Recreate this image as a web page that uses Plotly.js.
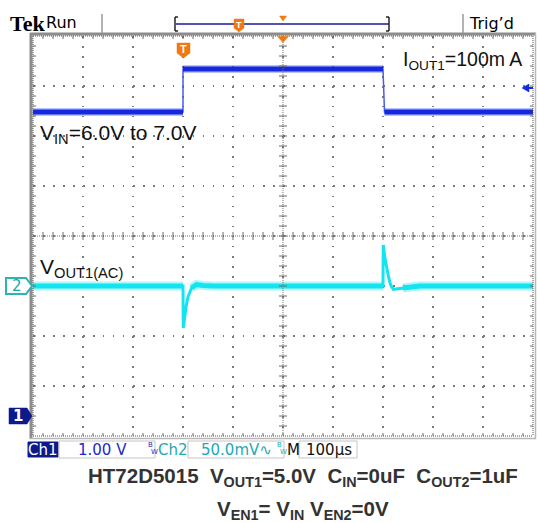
<!DOCTYPE html>
<html><head><meta charset="utf-8">
<script src="https://cdn.plot.ly/plotly-3.0.1.min.js"></script>
<style>html,body{margin:0;padding:0;background:#fff;}#chart{width:538px;height:523px;}</style>
</head><body><div id="chart"></div>
<script>
// ---- Data ----
// Ch1: input voltage step (V), time in µs relative to trigger
const ch1Time = [-500, -200, -200, 200, 203, 500];
const ch1Volt = [6.08, 6.08, 6.94, 6.94, 6.08, 6.08];
// Ch2: output AC ripple (mV)
const ch2Time = [-500, -200, -199.5, -196.7, -193.3, -190, -186, -183, -179, -173, -160, -140, 200, 200.5, 204, 207, 211, 214, 217, 221, 227, 240, 274, 500];
const ch2mV   = [0, 0, -42, -31, -19, -11, -6, -2, -1, 1.5, 0.5, 0, 0, 41, 27.7, 17.7, 9.3, 3.3, -0.7, -3.3, -3, -2, 0, 0];
// Labels
const ch1Scale = "1.00 V";
const ch2Scale = "50.0mV\u223F";
const timeScale = "100\u00B5s";
const captionLine1 = "HT72D5015  V<sub>OUT1</sub>=5.0V  C<sub>IN</sub>=0uF  C<sub>OUT2</sub>=1uF";
const captionLine2 = "V<sub>EN1</sub>= V<sub>IN</sub> V<sub>EN2</sub>=0V";
const labelIout = "I<sub>OUT1</sub>=100m A";
const labelVin = "V<sub>IN</sub>=6.0V to 7.0V";
const labelVout = "V<sub>OUT1(AC)</sub>";

// ---- geometry helpers (pixel -> paper) ----
const L = 33, R = 533, T = 36, B = 436;
const X = px => (px - L) / (R - L);
const Y = py => (B - py) / (B - T);
const pathOf = pts => pts.map((p, i) => (i ? 'L' : 'M') + X(p[0]).toFixed(5) + ',' + Y(p[1]).toFixed(5)).join(' ');

function bandify(t, v, keep) {
  const T2 = [], V2 = [];
  for (let i = 0; i < t.length; i++) {
    if (i > 0 && (t[i] - t[i - 1] < 4 || !keep(v[i]) || !keep(v[i - 1]))) { T2.push(null); V2.push(null); }
    if (keep(v[i])) { T2.push(t[i]); V2.push(v[i]); }
  }
  return [T2, V2];
}

const blue = '#1428e0', cyan = '#14e4f0';
const [b1t, b1v] = bandify(ch1Time, ch1Volt, () => true);
const [b2t, b2v] = bandify(ch2Time, ch2mV, v => Math.abs(v) <= 2);

const traces = [
  {x: b1t, y: b1v, mode: 'lines', line: {color: 'rgba(60,80,240,0.35)', width: 8}, hoverinfo: 'skip', connectgaps: false},
  {x: ch1Time, y: ch1Volt, mode: 'lines', line: {color: '#4a5cf0', width: 1.5}, hoverinfo: 'skip'},
  {x: b1t, y: b1v, mode: 'lines', line: {color: blue, width: 5}, hoverinfo: 'skip', connectgaps: false},
  {x: b2t, y: b2v, yaxis: 'y2', mode: 'lines', line: {color: 'rgba(20,228,240,0.35)', width: 9}, hoverinfo: 'skip', connectgaps: false},
  {x: ch2Time, y: ch2mV, yaxis: 'y2', mode: 'lines', line: {color: cyan, width: 3}, hoverinfo: 'skip'},
  {x: b2t, y: b2v, yaxis: 'y2', mode: 'lines', line: {color: cyan, width: 5}, hoverinfo: 'skip', connectgaps: false}
];

// ---- shapes ----
const shapes = [];
const line = (x0, y0, x1, y1, color, width, dash) => shapes.push({type: 'line', xref: 'paper', yref: 'paper', x0: X(x0), y0: Y(y0), x1: X(x1), y1: Y(y1), line: {color, width, dash: dash || 'solid'}});
const poly = (pts, fill, lc, lw) => shapes.push({type: 'path', xref: 'paper', yref: 'paper', path: pathOf(pts) + ' Z', fillcolor: fill, line: {color: lc || fill, width: lw || 0.5}});
const rect = (x0, y0, x1, y1, fill, lc) => shapes.push({type: 'rect', xref: 'paper', yref: 'paper', x0: X(x0), y0: Y(y0), x1: X(x1), y1: Y(y1), fillcolor: fill, line: {color: lc || fill, width: 1}});

// outer frame
line(31, 33, 31, 439, '#8c8c8c', 3);
line(30, 34, 536, 34, '#8c8c8c', 3);
line(535.5, 33, 535.5, 439, '#b8b8b8', 1.5);
line(30, 438.5, 536, 438.5, '#b8b8b8', 1.5);
// inner dotted border
line(L, T, R, T, '#555', 1, '1px,1px');
line(L, B, R, B, '#555', 1, '1px,1px');
line(L, T, L, B, '#555', 1, '1px,1px');
line(R, T, R, B, '#555', 1, '1px,1px');
// centre crosshair
line(283, T, 283, B, '#777', 1, '1px,1px');
line(L, 236, R, 236, '#777', 1, '1px,1px');
// ticks
let tk = '';
const seg = (a, b) => { tk += pathOf([a, b]) + ' '; };
for (let x = L + 10; x < R; x += 10) { seg([x, T], [x, T + 3]); seg([x, B], [x, B - 3]); seg([x, 232], [x, 240]); }
for (let y = T + 10; y < B; y += 10) { seg([L, y], [L + 3, y]); seg([R, y], [R - 3, y]); seg([279, y], [287, y]); }
shapes.push({type: 'path', xref: 'paper', yref: 'paper', path: tk, line: {color: '#6a6a6a', width: 1}});

// top status bar
line(102, 14, 102, 33, '#9a9a9a', 1.5);
line(463, 14, 463, 33, '#9a9a9a', 1.5);
line(176, 24, 389, 24, '#1a1a9c', 1.5);
line(175, 17, 175, 31, '#222', 1.5); line(175, 17, 178, 17, '#222', 1.5); line(175, 31, 178, 31, '#222', 1.5);
line(389, 17, 389, 31, '#222', 1.5); line(386, 17, 389, 17, '#222', 1.5); line(386, 31, 389, 31, '#222', 1.5);
const orange = '#f07a12';
poly([[234, 19], [244, 19], [244, 28], [239, 32], [234, 28]], orange);
poly([[279.5, 16], [286.5, 16], [283, 21]], orange);
// trigger markers in plot
poly([[277.5, 36.5], [288.5, 36.5], [283, 42.5]], orange);
poly([[177, 43], [190, 43], [190, 53], [183.5, 58], [177, 53]], orange);
// trigger level arrow (right)
poly([[522, 88], [529, 84], [529, 92]], blue);
line(528, 88, 533, 88, blue, 2);
// channel ground markers
poly([[6, 278], [26, 278], [32, 286], [26, 294], [6, 294]], '#ffffff', '#2ab4b4', 2);
poly([[9, 408], [27, 408], [32, 416], [27, 424], [9, 424]], '#0e1a8a');

// bottom readout boxes
rect(28, 442, 58, 457, '#0e1a8a');
rect(59, 441, 155, 458, '#ffffff', '#c4c4c4');
rect(188, 441, 284, 458, '#ffffff', '#c4c4c4');
rect(299, 441, 357, 458, '#ffffff', '#c4c4c4');

// ---- annotations ----
const ann = [];
const txt = (s, x, y, o) => ann.push(Object.assign({text: s, xref: 'paper', yref: 'paper', x: X(x), y: Y(y), xanchor: 'left', yanchor: 'middle', showarrow: false, font: {family: 'Liberation Sans, Arial, sans-serif', size: 16, color: '#111'}}, o || {}));

txt('Tek', 8, 23, {font: {family: 'Liberation Serif, Times New Roman, serif', size: 22, color: '#000', weight: 'bold'}});
txt('Run', 44, 22, {font: {family: 'DejaVu Sans, sans-serif', size: 16, color: '#000'}});
txt('Trig\u2019d', 467, 23, {font: {family: 'DejaVu Sans, sans-serif', size: 16, color: '#000'}});
txt('T', 239, 25, {xanchor: 'center', font: {family: 'Liberation Sans, Arial', size: 9, color: '#fff', weight: 'bold'}});
txt('T', 183.5, 49, {xanchor: 'center', font: {family: 'Liberation Sans, Arial', size: 11, color: '#fff', weight: 'bold'}});

txt(labelIout, 401, 60, {font: {family: 'Liberation Sans, Arial, sans-serif', size: 19.5, color: '#111'}});
txt(labelVin, 38, 134, {font: {family: 'Liberation Sans, Arial, sans-serif', size: 21, color: '#111'}});
txt(labelVout, 38, 268, {font: {family: 'Liberation Sans, Arial, sans-serif', size: 21, color: '#111'}});

txt('2', 17, 286, {xanchor: 'center', font: {family: 'DejaVu Sans, sans-serif', size: 15, color: '#1aa8ac'}});
txt('1', 18, 416, {xanchor: 'center', font: {family: 'DejaVu Sans, sans-serif', size: 15, color: '#fff', weight: 'bold'}});

const mono = 'DejaVu Sans, sans-serif';
txt('Ch1', 43, 449.5, {xanchor: 'center', font: {family: mono, size: 15, color: '#fff'}});
txt(ch1Scale, 76, 449.5, {font: {family: mono, size: 15, color: '#1e2ac8'}});
txt('B', 146, 445, {font: {family: mono, size: 7, color: '#1e2ac8'}});
txt('W', 149, 452, {font: {family: mono, size: 7, color: '#1e2ac8'}});
txt('Ch2', 156, 449.5, {font: {family: mono, size: 15, color: '#22aab4'}});
txt(ch2Scale, 199, 449.5, {font: {family: mono, size: 15, color: '#22aab4'}});
txt('B', 275, 445, {font: {family: mono, size: 7, color: '#22aab4'}});
txt('W', 278, 452, {font: {family: mono, size: 7, color: '#22aab4'}});
txt('M', 285, 449.5, {font: {family: mono, size: 15, color: '#111'}});
txt(timeScale, 304, 449.5, {font: {family: mono, size: 15, color: '#111'}});

txt(captionLine1, 303, 477, {xanchor: 'center', font: {family: 'Liberation Sans, Arial, sans-serif', size: 20.5, color: '#333', weight: 'bold'}});
txt(captionLine2, 303, 510, {xanchor: 'center', font: {family: 'Liberation Sans, Arial, sans-serif', size: 20.5, color: '#333', weight: 'bold'}});

const layout = {
  width: 538, height: 523,
  margin: {l: L, r: 538 - R, t: T, b: 523 - B, pad: 0},
  paper_bgcolor: '#fff', plot_bgcolor: '#fff',
  showlegend: false,
  xaxis: {range: [-500, 500], showgrid: true, dtick: 100, tick0: 0, gridcolor: '#7a7a7a', gridwidth: 1.5, griddash: '1.5px,8.5px',
          zeroline: false, showline: false, showticklabels: false, ticks: '', fixedrange: true},
  yaxis: {range: [-0.4, 7.6], showgrid: true, dtick: 1, tick0: -0.4, gridcolor: '#7a7a7a', gridwidth: 1.5, griddash: '1.5px,8.5px',
          zeroline: false, showline: false, showticklabels: false, ticks: '', fixedrange: true},
  yaxis2: {range: [-150, 250], overlaying: 'y', visible: false, showgrid: false, zeroline: false, fixedrange: true},
  shapes: shapes,
  annotations: ann
};
Plotly.newPlot('chart', traces, layout, {displayModeBar: false});
</script>
</body></html>
